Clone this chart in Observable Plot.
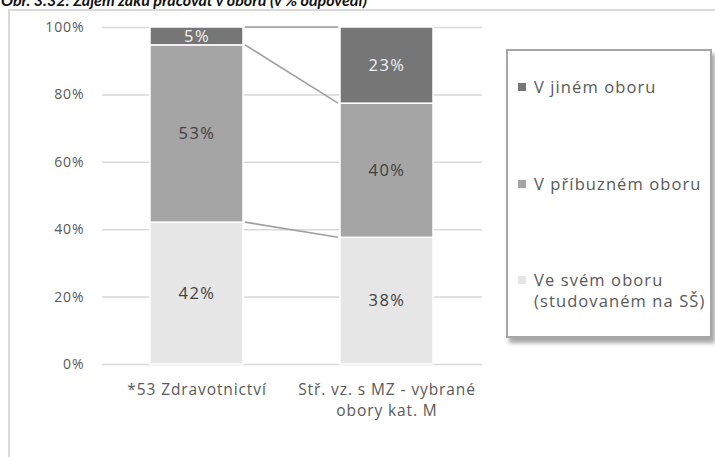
<!DOCTYPE html>
<html>
<head>
<meta charset="utf-8">
<script src="https://cdn.jsdelivr.net/npm/d3@7"></script>
<script src="https://cdn.jsdelivr.net/npm/@observablehq/plot@0.6"></script>
<style>
  html, body { margin: 0; padding: 0; background: #fff; }
  #wrap { position: relative; width: 715px; height: 457px; overflow: hidden; font-family: "Open Sans", sans-serif; }
  #title { position: absolute; left: 1px; top: -8px; font: italic bold 16px Lato, sans-serif; color: #111; white-space: nowrap; line-height: 16px; }
  #frame { position: absolute; left: 8px; top: 9px; width: 720px; height: 460px; border-left: 2px solid #d9d9d9; border-top: 2px solid #d9d9d9; }
  #chart { position: absolute; left: 0; top: 0; }
  #legend { position: absolute; left: 506px; top: 49px; width: 202px; height: 285px; border: 2px solid #a6a6a6; background: #fff; box-shadow: 3px 5px 4px rgba(0,0,0,0.35); }
  .item { position: absolute; left: 10px; display: flex; align-items: flex-start; font-size: 16.5px; letter-spacing: 1.1px; color: #595959; line-height: 21px; }
  .swatch { width: 8px; height: 8px; margin-top: 7px; margin-right: 8px; flex: none; }
  #chart text { letter-spacing: 0.9px; }
  #chart .lbl text { letter-spacing: 1.5px; }
</style>
</head>
<body>
<div id="wrap">
  <div id="title">Obr. 3.32: Zájem žáků pracovat v oboru (v % odpovědí)</div>
  <div id="frame"></div>
  <div id="chart"></div>
  <div id="legend"></div>
</div>
<script>
// ---- data ----
const categories = ["*53 Zdravotnictví", "Stř. vz. s MZ - vybrané obory kat. M"];
const categoryLabels = ["*53 Zdravotnictví", "Stř. vz. s MZ - vybrané\nobory kat. M"];
const series = ["Ve svém oboru (studovaném na SŠ)", "V příbuzném oboru", "V jiném oboru"];
const legendLabels = ["V jiném oboru", "V příbuzném oboru", "Ve svém oboru\n(studovaném na SŠ)"];
const ownField = [42.1, 37.6];
const relatedField = [52.6, 39.8];
const otherField = [5.3, 22.6];
const yTicks = [0, 20, 40, 60, 80, 100];
const colors = ["#e6e6e6", "#a5a5a5", "#767676"];

const seriesValues = [ownField, relatedField, otherField];
const rows = [];
categories.forEach((c, i) => {
  series.forEach((s, k) => rows.push({cat: c, series: s, value: seriesValues[k][i]}));
});

// connectors between stacked tops of the two bars
const tops = categories.map((c, i) => Array.from(d3.cumsum(seriesValues.map(v => v[i]))));
const links = series.map((s, k) => ({from: categories[0], to: categories[1], y1: tops[0][k], y2: tops[1][k]}));

const labelMap = new Map(categories.map((c, i) => [c, categoryLabels[i]]));
const otherName = series[2];

const plot = Plot.plot({
  width: 500,
  height: 440,
  marginTop: 27,
  marginBottom: 76,
  marginLeft: 102,
  marginRight: 18,
  style: {fontFamily: "Open Sans, sans-serif", background: "transparent", color: "#595959"},
  x: {domain: categories, paddingInner: 0.51, paddingOuter: 0.255, axis: null},
  y: {domain: [0, 100], axis: null},
  color: {domain: series, range: colors},
  marks: [
    Plot.gridY(yTicks, {stroke: "#d9d9d9", strokeOpacity: 1, strokeWidth: 1.5}),
    Plot.link(links, {
      x1: "from", x2: "to", y1: "y1", y2: "y2",
      render(index, scales, values, dimensions) {
        const x = scales.x, y = scales.y;
        const bw = typeof x.bandwidth === "function" ? x.bandwidth() : x.bandwidth;
        const g = d3.create("svg:g");
        for (const i of index) {
          const d = links[i];
          g.append("line")
            .attr("x1", x(d.from) + bw + 2)
            .attr("x2", x(d.to) - 2)
            .attr("y1", y(d.y1))
            .attr("y2", y(d.y2))
            .attr("stroke", "#a0a0a0")
            .attr("stroke-width", 1.6);
        }
        return g.node();
      }
    }),
    Plot.barY(rows, Plot.stackY({x: "cat", y: "value", fill: "series", stroke: "#fff", strokeWidth: 1.5})),
    Plot.text(rows, Plot.stackY({x: "cat", y: "value", z: "series",
      text: d => d.series === otherName ? "" : Math.round(d.value) + "%",
      fill: "#404040", fontSize: 16.5, className: "lbl"})),
    Plot.text(rows, Plot.stackY({x: "cat", y: "value", z: "series",
      text: d => d.series === otherName ? Math.round(d.value) + "%" : "",
      fill: "#f2f2f2", fontSize: 16.5, className: "lbl"})),
    Plot.axisY({ticks: yTicks, tickSize: 0, tickPadding: 18, tickFormat: d => d + "%", fontSize: 14, fill: "#595959", label: null}),
    Plot.axisX({tickSize: 0, tickPadding: 16, tickFormat: d => labelMap.get(d), fontSize: 15.5, fill: "#595959", lineHeight: 1.33, label: null})
  ]
});
document.getElementById("chart").appendChild(plot);

// legend
const legend = document.getElementById("legend");
const legendTops = [25, 122, 218];
[2, 1, 0].forEach((k, j) => {
  const item = document.createElement("div");
  item.className = "item";
  item.style.top = legendTops[j] + "px";
  const sw = document.createElement("span");
  sw.className = "swatch";
  sw.style.background = colors[k];
  const tx = document.createElement("span");
  tx.style.whiteSpace = "pre";
  tx.textContent = legendLabels[j];
  item.appendChild(sw);
  item.appendChild(tx);
  legend.appendChild(item);
});
</script>
</body>
</html>
